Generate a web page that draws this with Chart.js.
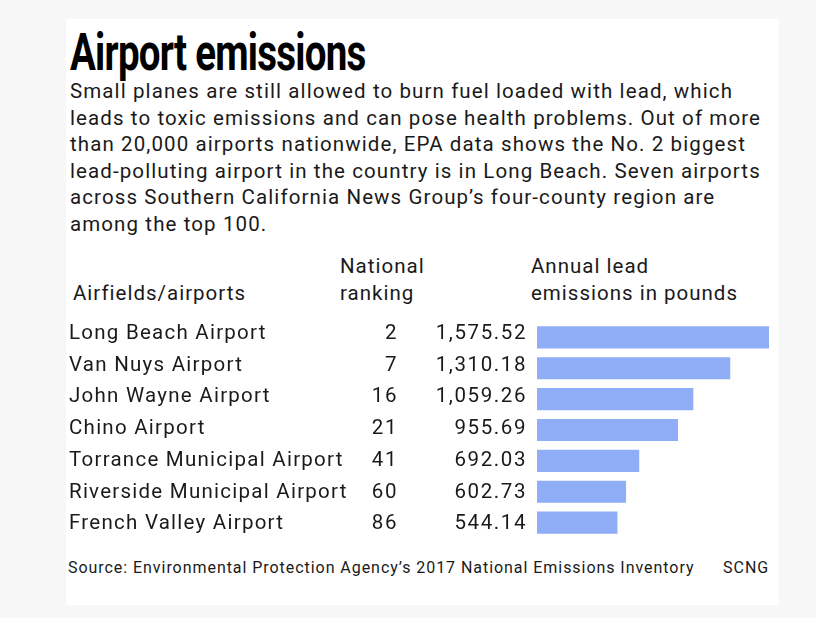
<!DOCTYPE html>
<html><head><meta charset="utf-8">
<script src="https://cdn.jsdelivr.net/npm/chart.js@4"></script>
<style>
html,body{margin:0;padding:0;background:#f7f7f7;width:816px;height:618px;overflow:hidden;font-family:Roboto,sans-serif;color:#1a1a1a}
#card{position:absolute;left:66px;top:19px;width:713px;height:586px;background:#fff}
.t{position:absolute;white-space:nowrap}
#title{left:70px;top:22px;font-weight:700;font-size:52px;letter-spacing:-1px;transform:scaleX(0.74);transform-origin:left top;color:#000}
#sub{left:70px;top:78px;font-size:20.5px;line-height:26.6px;letter-spacing:1.1px}
.h{font-size:20.5px;line-height:26.6px;letter-spacing:1px}
#foot{left:68px;top:558px;font-size:16px;letter-spacing:0.95px}
#scng{left:723px;top:558px;font-size:16px;letter-spacing:1px}
#wrap{position:absolute;left:66px;top:322px;width:713px;height:216px}
</style></head><body>
<div id="card"></div>
<div class="t" id="title">Airport emissions</div>
<div class="t" id="sub">Small planes are still allowed to burn fuel loaded with lead, which<br>leads to toxic emissions and can pose health problems. Out of more<br>than 20,000 airports nationwide, EPA data shows the No. 2 biggest<br>lead-polluting airport in the country is in Long Beach. Seven airports<br>across Southern California News Group’s four-county region are<br>among the top 100.</div>
<div class="t h" style="left:73px;top:280px">Airfields/airports</div>
<div class="t h" style="left:340px;top:253px">National<br>ranking</div>
<div class="t h" style="left:531px;top:253px">Annual lead<br>emissions in pounds</div>
<div class="t" id="foot">Source: Environmental Protection Agency’s 2017 National Emissions Inventory</div>
<div class="t" id="scng">SCNG</div>
<div id="wrap"><canvas id="c"></canvas></div>
<script>
const airports = ["Long Beach Airport","Van Nuys Airport","John Wayne Airport","Chino Airport","Torrance Municipal Airport","Riverside Municipal Airport","French Valley Airport"];
const rankings = [2,7,16,21,41,60,86];
const emissions = [1575.52,1310.18,1059.26,955.69,692.03,602.73,544.14];

const tablePlugin = {
  id:'table',
  afterDatasetsDraw(chart){
    const ctx = chart.ctx, y = chart.scales.y;
    const first = y.getPixelForValue(0);
    ctx.save();
    ctx.fillStyle = '#1a1a1a';
    ctx.font = '20.5px Roboto, sans-serif';
    ctx.textBaseline = 'middle';
    airports.forEach((name,i)=>{
      const py = first - 3.7 + (y.getPixelForValue(i) - first) * 1.029;
      ctx.letterSpacing = '1.25px';
      ctx.textAlign='left'; ctx.fillText(name, 3, py);
      ctx.letterSpacing = '1.6px';
      ctx.textAlign='right'; ctx.fillText(String(rankings[i]), 332, py);
      ctx.fillText(emissions[i].toLocaleString('en-US',{minimumFractionDigits:2,maximumFractionDigits:2}), 461, py);
    });
    ctx.restore();
  }
};

new Chart(document.getElementById('c'),{
  type:'bar',
  data:{labels:airports,datasets:[{data:emissions,backgroundColor:'#8faef7',borderWidth:0,barThickness:21.5}]},
  options:{
    indexAxis:'y',responsive:true,maintainAspectRatio:false,animation:false,
    layout:{padding:{left:471,right:10,top:0,bottom:0}},
    plugins:{legend:{display:false},tooltip:{enabled:false}},
    scales:{
      x:{display:false,min:0,max:1575.52},
      y:{display:false}
    }
  },
  plugins:[tablePlugin]
});
</script>
</body></html>
